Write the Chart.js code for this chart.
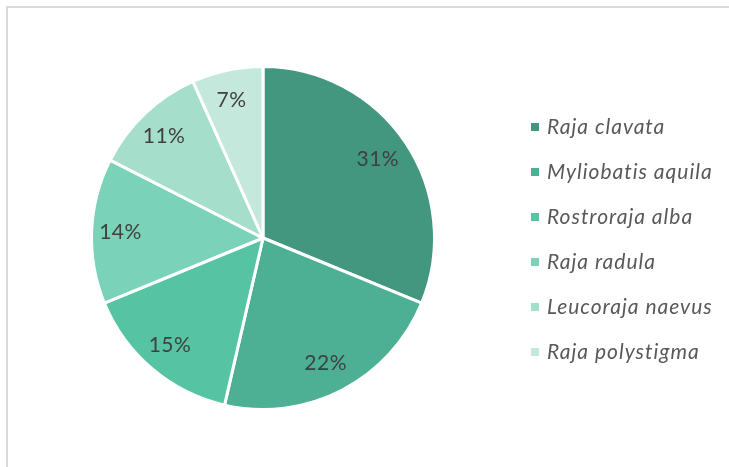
<!DOCTYPE html>
<html>
<head>
<meta charset="utf-8">
<script src="https://cdn.jsdelivr.net/npm/chart.js@4"></script>
<style>
    html, body { margin: 0; padding: 0; background: #fff; }
    #wrap { position: relative; width: 729px; height: 467px; overflow: hidden; }
    #frame { position: absolute; left: 6px; top: 6px; width: 740px; height: 480px; border-left: 2px solid #d9d9d9; border-top: 2px solid #d9d9d9; }
    canvas { position: absolute; left: 0; top: 0; }
</style>
</head>
<body>
<div id="wrap">
    <div id="frame"></div>
    <canvas id="pieChart" width="729" height="467"></canvas>
</div>
<script>
// --- Data ---
const species = ['Raja clavata', 'Myliobatis aquila', 'Rostroraja alba', 'Raja radula', 'Leucoraja naevus', 'Raja polystigma'];
const shares = [31.2, 22.4, 15.2, 13.7, 10.8, 6.7];
const sliceColors = ['#43977f', '#4daf94', '#56c4a3', '#7ad3b8', '#a5dfcb', '#c4e8dc'];

const FONT = "Lato, 'Open Sans', sans-serif";

// percent labels inside slices
const sliceLabels = {
    id: 'sliceLabels',
    afterDatasetsDraw(chart) {
        const ctx = chart.ctx;
        const meta = chart.getDatasetMeta(0);
        const total = shares.reduce((a, b) => a + b, 0);
        ctx.save();
        ctx.font = `21px ${FONT}`;
        ctx.letterSpacing = '0.5px';
        ctx.fillStyle = '#404040';
        ctx.textAlign = 'center';
        ctx.textBaseline = 'middle';
        meta.data.forEach((arc, i) => {
            const p = arc.getProps(['x', 'y', 'startAngle', 'endAngle', 'outerRadius'], true);
            const mid = (p.startAngle + p.endAngle) / 2;
            const r = p.outerRadius * 0.82;
            const pct = Math.round(shares[i] / total * 100);
            ctx.fillText(pct + '%', p.x + Math.cos(mid) * r - 2, p.y + Math.sin(mid) * r);
        });
        ctx.restore();
    }
};

// legend on the right
const sideLegend = {
    id: 'sideLegend',
    afterDraw(chart) {
        const ctx = chart.ctx;
        ctx.save();
        ctx.font = `italic 21px ${FONT}`;
        ctx.letterSpacing = '1px';
        ctx.textBaseline = 'middle';
        species.forEach((name, i) => {
            const y = 127 + i * 45;
            ctx.fillStyle = sliceColors[i];
            ctx.fillRect(531, y - 4, 8, 8);
            ctx.fillStyle = '#595959';
            ctx.fillText(name, 547, y);
        });
        ctx.restore();
    }
};

new Chart(document.getElementById('pieChart'), {
    type: 'pie',
    data: {
        labels: species,
        datasets: [{
            data: shares,
            backgroundColor: sliceColors,
            borderColor: '#ffffff',
            borderWidth: 3
        }]
    },
    options: {
        responsive: false,
        animation: false,
        layout: { padding: { left: 90, top: 64, right: 293, bottom: 55 } },
        plugins: {
            legend: { display: false },
            tooltip: { enabled: false }
        }
    },
    plugins: [sliceLabels, sideLegend]
});
</script>
</body>
</html>
